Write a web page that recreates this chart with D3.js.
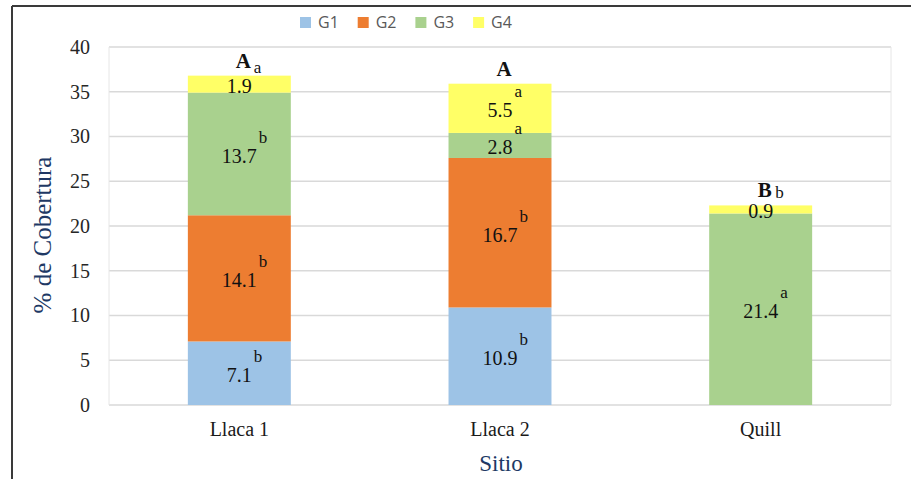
<!DOCTYPE html>
<html><head><meta charset="utf-8">
<script src="https://cdn.jsdelivr.net/npm/d3@7"></script>
<style>body{margin:0;background:#fff;}svg{display:block;}</style>
</head><body>
<svg id="c" width="911" height="479"></svg>
<script>
const categories = ["Llaca 1", "Llaca 2", "Quill"];
const seriesNames = ["G1", "G2", "G3", "G4"];
const G1 = [7.1, 10.9, 0];
const G2 = [14.1, 16.7, 0];
const G3 = [13.7, 2.8, 21.4];
const G4 = [1.9, 5.5, 0.9];
const G1letters = ["b", "b", ""];
const G2letters = ["b", "b", ""];
const G3letters = ["b", "a", "a"];
const G4letters = ["a", "a", "b"];
const siteLetters = ["A", "A", "B"];
const yTicks = [0, 5, 10, 15, 20, 25, 30, 35, 40];
const colors = ["#9DC3E6", "#ED7D31", "#A9D18E", "#FFFF66"];

const values = [G1, G2, G3, G4];
const letters = [G1letters, G2letters, G3letters, G4letters];
const rows = categories.map((c, i) => {
  const r = {cat: c};
  seriesNames.forEach((s, k) => r[s] = values[k][i]);
  return r;
});

const SERIF = '"Liberation Serif","Times New Roman",serif';
const svg = d3.select("#c");
const L = 109, R = 891, T = 47, B = 405;
const x = d3.scaleBand().domain(categories).range([L, R]).paddingInner(0.605).paddingOuter(0.3025);
const y = d3.scaleLinear().domain([0, 40]).range([B, T]);

// outer frame (top + left)
svg.append("line").attr("x1", 12).attr("x2", 911).attr("y1", 6).attr("y2", 6).attr("stroke", "#3a3a3a").attr("stroke-width", 2);
svg.append("line").attr("x1", 12).attr("x2", 12).attr("y1", 6).attr("y2", 479).attr("stroke", "#3a3a3a").attr("stroke-width", 2);

// gridlines
svg.append("g").selectAll("line").data(yTicks).join("line")
  .attr("x1", L).attr("x2", R).attr("y1", d => y(d)).attr("y2", d => y(d))
  .attr("stroke", "#d9d9d9").attr("stroke-width", 1.5);
svg.append("line").attr("x1", L).attr("x2", L).attr("y1", T).attr("y2", B).attr("stroke", "#e6e6e6");
svg.append("line").attr("x1", R).attr("x2", R).attr("y1", T).attr("y2", B).attr("stroke", "#e6e6e6");

// y axis labels
const yAxis = d3.axisLeft(y).tickValues(yTicks).tickSize(0).tickPadding(19);
const gy = svg.append("g").attr("transform", `translate(${L},0)`).call(yAxis);
gy.attr("font-family", null).attr("font-size", null);
gy.select(".domain").remove();
gy.selectAll("text").style("font-family", SERIF).style("font-size", "20px").attr("fill", "#262626");

// x axis labels
const xAxis = d3.axisBottom(x).tickSize(0).tickPadding(17);
const gx = svg.append("g").attr("transform", `translate(0,${B})`).call(xAxis);
gx.attr("font-family", null).attr("font-size", null);
gx.select(".domain").remove();
gx.selectAll("text").style("font-family", SERIF).style("font-size", "20px").attr("fill", "#1a1a1a");

// stacked bars
const stack = d3.stack().keys(seriesNames)(rows);
const layers = svg.append("g").selectAll("g").data(stack).join("g").attr("fill", (d, i) => colors[i]);
layers.selectAll("rect").data(d => d).join("rect")
  .attr("x", d => x(d.data.cat)).attr("width", x.bandwidth())
  .attr("y", d => y(d[1])).attr("height", d => y(d[0]) - y(d[1]));

// value labels with superscript letters
const lab = svg.append("g").attr("fill", "#111");
stack.forEach((layer, k) => {
  layer.forEach((d, i) => {
    const v = d[1] - d[0];
    if (v <= 0) return;
    const cx = x(d.data.cat) + x.bandwidth() / 2;
    const cy = (y(d[0]) + y(d[1])) / 2;
    const t = lab.append("text").attr("x", cx).attr("y", cy + 9).attr("text-anchor", "middle")
      .style("font-family", SERIF).style("font-size", "20px").text(v.toFixed(1));
    const w = t.node().getComputedTextLength();
    const letter = letters[k][i];
    if (letter) {
      lab.append("text").attr("x", cx + w / 2 + 2).attr("y", cy - 11)
        .style("font-family", SERIF).style("font-size", "17px").text(letter);
    }
  });
});

// site letters on top
const totals = categories.map((c, i) => values.reduce((s, a) => s + a[i], 0));
svg.append("g").selectAll("text").data(categories).join("text")
  .attr("x", d => x(d) + x.bandwidth() / 2 + 4)
  .attr("y", (d, i) => y(totals[i]) - 8)
  .attr("text-anchor", "middle")
  .style("font-family", SERIF).style("font-weight", "bold").style("font-size", "21px").attr("fill", "#111")
  .text((d, i) => siteLetters[i]);

// axis titles
svg.append("text").attr("transform", "translate(51,235) rotate(-90)").attr("text-anchor", "middle")
  .style("font-family", SERIF).style("font-size", "25px").attr("fill", "#203864").text("% de Cobertura");
svg.append("text").attr("x", (L + R) / 2 + 1).attr("y", 471).attr("text-anchor", "middle")
  .style("font-family", SERIF).style("font-size", "23px").attr("fill", "#203864").text("Sitio");

// legend
const lg = svg.append("g").selectAll("g").data(seriesNames).join("g")
  .attr("transform", (d, i) => `translate(${300 + i * 57.7},17)`);
lg.append("rect").attr("width", 11).attr("height", 11).attr("fill", (d, i) => colors[i]);
lg.append("text").attr("x", 18).attr("y", 11).style("font-family", '"Open Sans", sans-serif')
  .style("font-size", "16px").attr("fill", "#595959").text(d => d);
</script>
</body></html>
